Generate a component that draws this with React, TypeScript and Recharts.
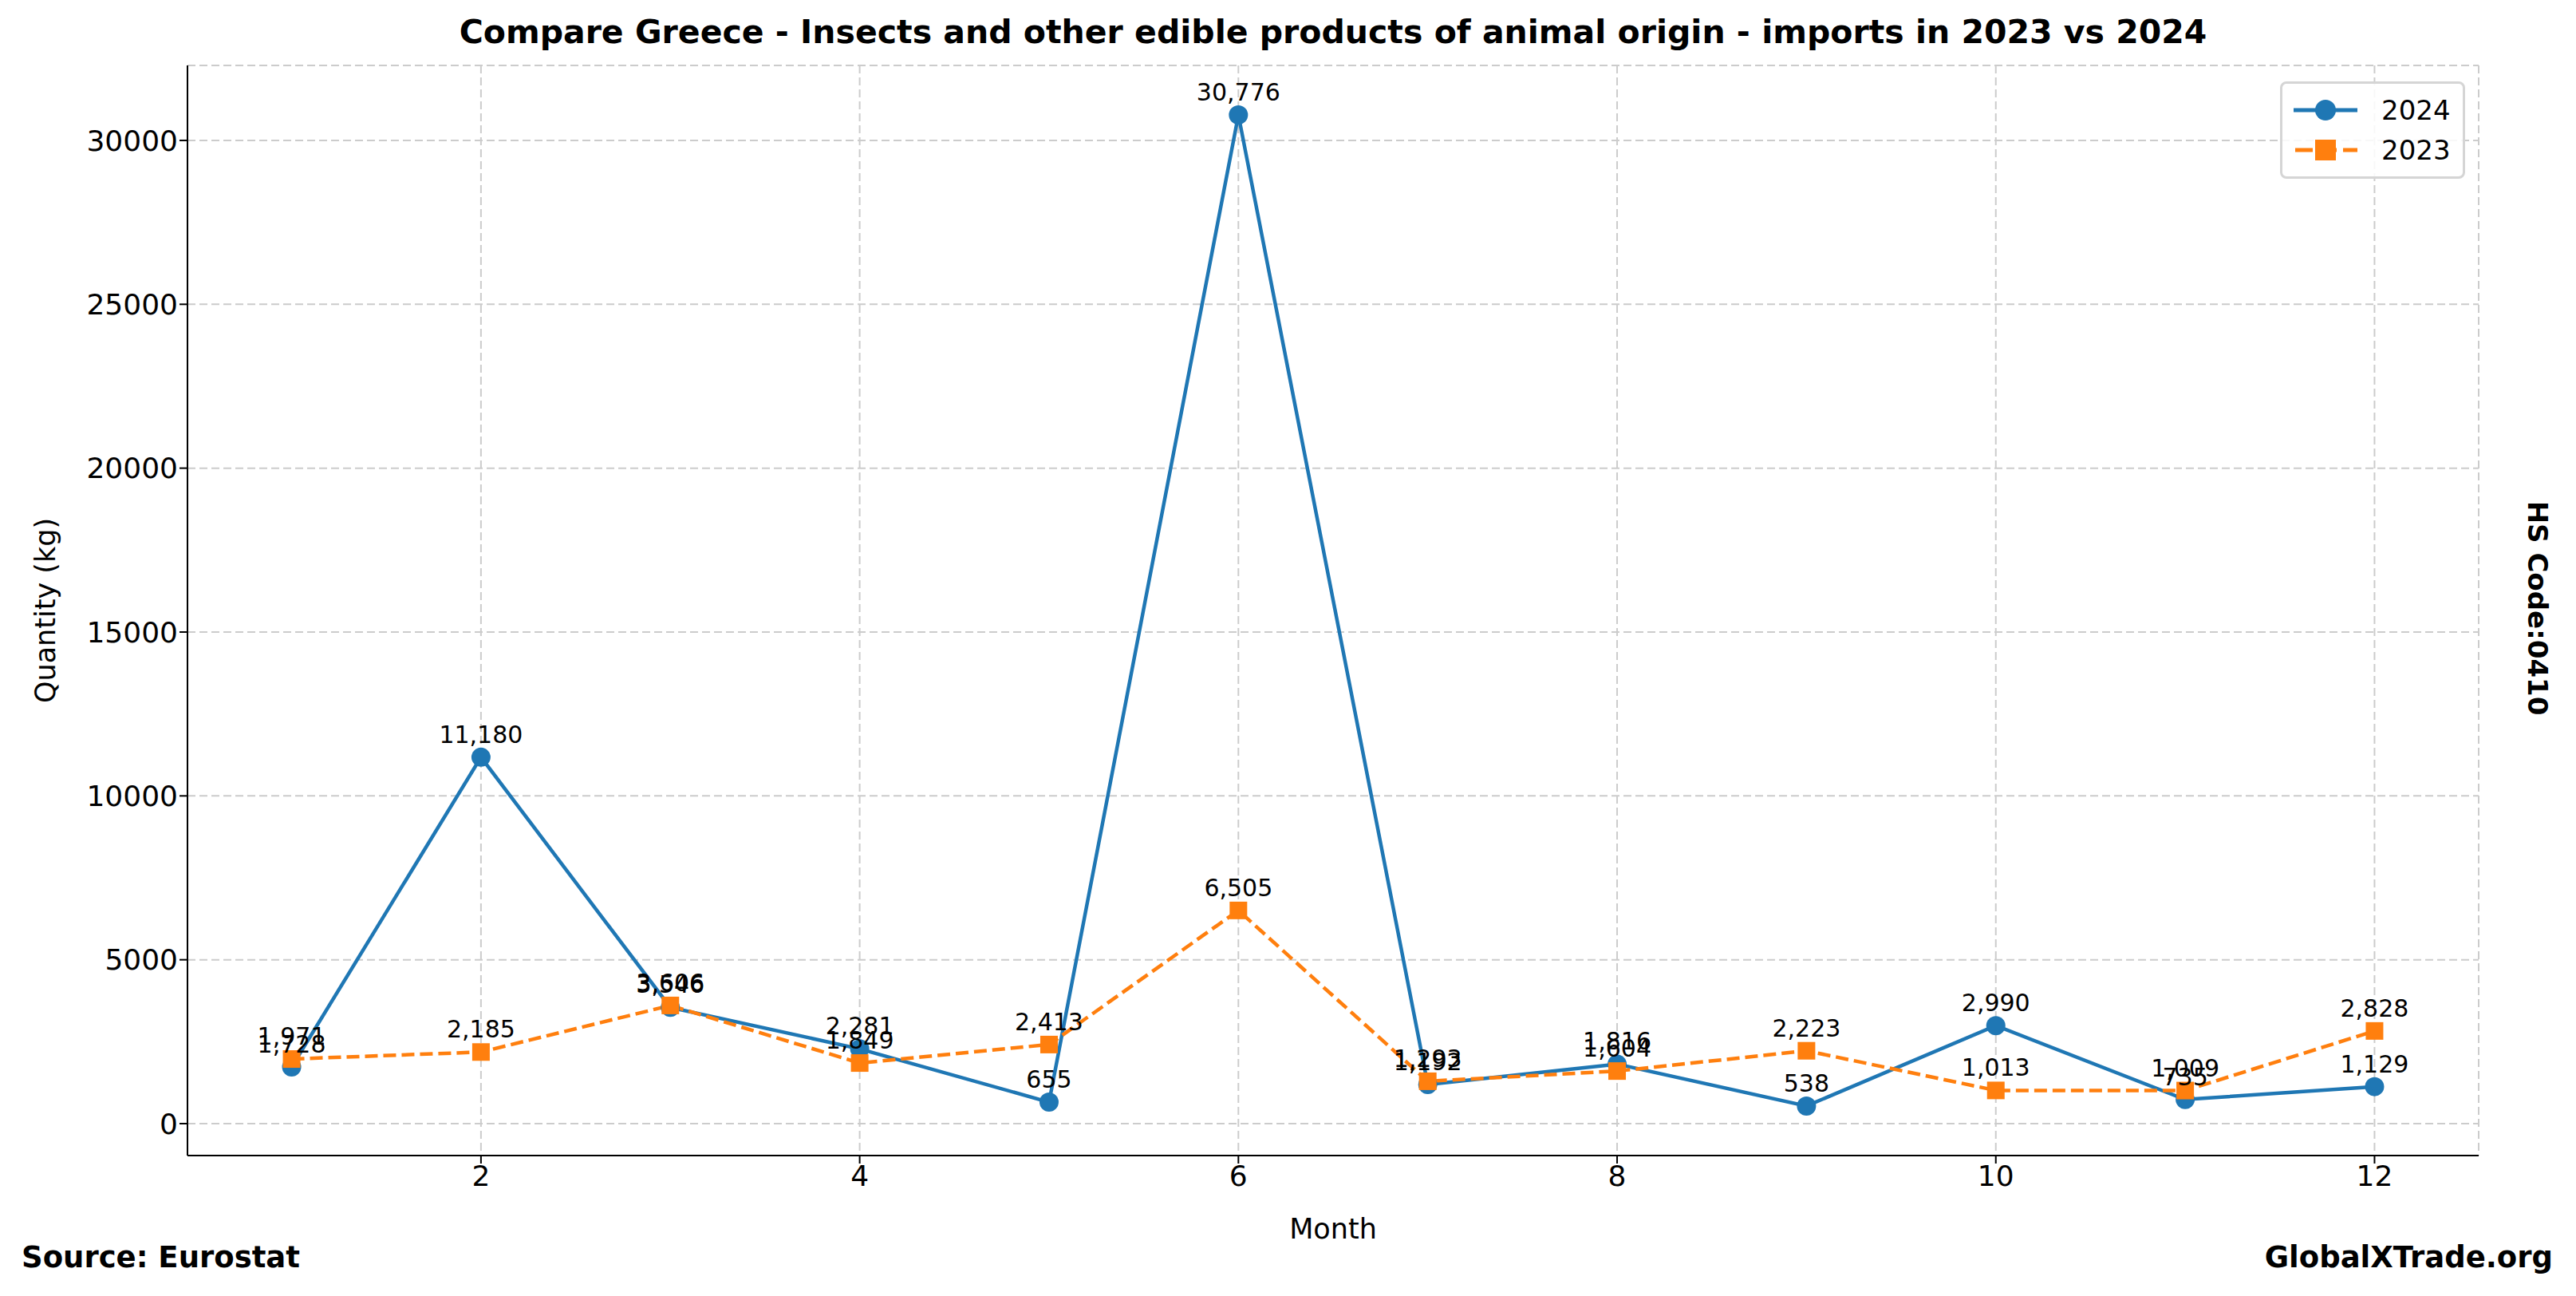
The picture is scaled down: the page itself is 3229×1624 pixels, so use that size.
import React from 'react';
import {
  LineChart,
  Line,
  XAxis,
  YAxis,
  CartesianGrid,
  LabelList,
} from 'recharts';

const months = [1, 2, 3, 4, 5, 6, 7, 8, 9, 10, 11, 12];
const qty2024 = [1728, 11180, 3546, 2281, 655, 30776, 1192, 1816, 538, 2990, 735, 1129];
const qty2023 = [1971, 2185, 3606, 1849, 2413, 6505, 1293, 1604, 2223, 1013, 1009, 2828];
const xTicks = [2, 4, 6, 8, 10, 12];
const yTicks = [0, 5000, 10000, 15000, 20000, 25000, 30000];

const BLUE = '#1f77b4';
const ORANGE = '#ff7f0e';
const FONT = 'DejaVu Sans, sans-serif';

const data = months.map((m, i) => ({ month: m, y2024: qty2024[i], y2023: qty2023[i] }));

const SquareDot = (props: any) => {
  const { cx, cy } = props;
  if (cx == null || cy == null) return null;
  return <rect x={cx - 11} y={cy - 11} width={22} height={22} fill={ORANGE} />;
};

const ValueLabel = (props: any) => {
  const { x, y, value } = props;
  return (
    <text x={x} y={y - 18} textAnchor="middle" fontSize={30} fontFamily={FONT} fill="#000">
      {Number(value).toLocaleString('en-US')}
    </text>
  );
};

const LegendBox = () => (
  <div
    style={{
      position: 'absolute',
      left: 2858,
      top: 102,
      width: 232,
      border: '3px solid #d5d5d5',
      borderRadius: 8,
      background: 'rgba(255,255,255,0.85)',
      padding: '8px 14px',
      fontFamily: FONT,
      fontSize: 34,
      boxSizing: 'border-box',
    }}
  >
    <div style={{ display: 'flex', alignItems: 'center', height: 50 }}>
      <svg width={82} height={30}>
        <line x1={0} y1={15} x2={80} y2={15} stroke={BLUE} strokeWidth={5} />
        <circle cx={40} cy={15} r={13} fill={BLUE} />
      </svg>
      <span style={{ marginLeft: 28 }}>2024</span>
    </div>
    <div style={{ display: 'flex', alignItems: 'center', height: 50 }}>
      <svg width={82} height={30}>
        <line x1={2} y1={15} x2={80} y2={15} stroke={ORANGE} strokeWidth={5} strokeDasharray="22 8" />
        <rect x={27} y={2} width={26} height={26} fill={ORANGE} />
      </svg>
      <span style={{ marginLeft: 28 }}>2023</span>
    </div>
  </div>
);

export default function App() {
  return (
    <div style={{ position: 'absolute', left: 0, top: 0, width: 3229, height: 1624, background: '#fff', fontFamily: FONT }}>
      <LineChart
        width={3229}
        height={1624}
        data={data}
        margin={{ top: 82, right: 122, bottom: 116, left: 85 }}
      >
        <CartesianGrid stroke="#cccccc" strokeDasharray="10 5" strokeWidth={2} />
        <XAxis
          dataKey="month"
          type="number"
          domain={[0.45, 12.55]}
          ticks={xTicks}
          allowDataOverflow
          height={60}
          tickSize={10}
          tick={{ fill: '#000', fontSize: 36, fontFamily: FONT }}
          tickLine={{ stroke: '#000', strokeWidth: 2 }}
          axisLine={{ stroke: '#000', strokeWidth: 2 }}
          label={{ value: 'Month', position: 'insideBottom', offset: -44, fill: '#000', fontSize: 35, fontFamily: FONT }}
        />
        <XAxis
          xAxisId="top"
          dataKey="month"
          type="number"
          orientation="top"
          domain={[0.45, 12.55]}
          height={0}
          tick={false}
          tickLine={false}
          axisLine={{ stroke: '#000', strokeWidth: 2 }}
        />
        <YAxis
          type="number"
          domain={[-974, 32288]}
          ticks={yTicks}
          allowDataOverflow
          width={150}
          tickSize={10}
          tick={{ fill: '#000', fontSize: 36, fontFamily: FONT }}
          tickLine={{ stroke: '#000', strokeWidth: 2 }}
          axisLine={{ stroke: '#000', strokeWidth: 2 }}
          label={{ value: 'Quantity (kg)', angle: -90, position: 'insideLeft', offset: -28, fill: '#000', fontSize: 35, fontFamily: FONT, style: { textAnchor: 'middle' } }}
        />
        <YAxis
          yAxisId="right"
          orientation="right"
          domain={[-974, 32288]}
          width={0}
          tick={false}
          tickLine={false}
          axisLine={{ stroke: '#000', strokeWidth: 2 }}
        />
        <Line
          name="2024"
          dataKey="y2024"
          stroke={BLUE}
          strokeWidth={4.5}
          dot={{ r: 12, fill: BLUE, stroke: BLUE, strokeWidth: 0 }}
          activeDot={false}
          isAnimationActive={false}
        >
          <LabelList dataKey="y2024" content={<ValueLabel />} />
        </Line>
        <Line
          name="2023"
          dataKey="y2023"
          stroke={ORANGE}
          strokeWidth={4.5}
          strokeDasharray="16 7"
          dot={<SquareDot />}
          activeDot={false}
          isAnimationActive={false}
        >
          <LabelList dataKey="y2023" content={<ValueLabel />} />
        </Line>
      </LineChart>
      <div
        style={{
          position: 'absolute',
          left: 235,
          width: 2872,
          top: 16,
          textAlign: 'center',
          fontSize: 41,
          fontWeight: 'bold',
          whiteSpace: 'nowrap',
        }}
      >
        Compare Greece - Insects and other edible products of animal origin - imports in 2023 vs 2024
      </div>
      <LegendBox />
      <div style={{ position: 'absolute', left: 27, top: 1554, fontSize: 37, fontWeight: 'bold' }}>Source: Eurostat</div>
      <div style={{ position: 'absolute', right: 29, top: 1554, fontSize: 37, fontWeight: 'bold' }}>GlobalXTrade.org</div>
      <div
        style={{
          position: 'absolute',
          left: 3181,
          top: 762,
          transform: 'translate(-50%, -50%) rotate(90deg)',
          fontSize: 34,
          fontWeight: 'bold',
          whiteSpace: 'nowrap',
        }}
      >
        HS Code:0410
      </div>
    </div>
  );
}
